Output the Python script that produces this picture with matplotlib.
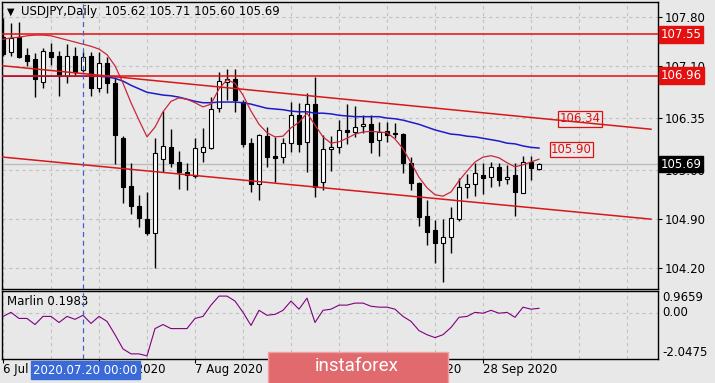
import matplotlib
matplotlib.use("Agg")
import matplotlib.pyplot as plt
import numpy as np
from matplotlib.patches import Rectangle, FancyBboxPatch

# ---- data (USDJPY daily, bar 0 = 6 Jul 2020) ----
opens = [107.51, 107.30, 107.51, 107.26, 107.20, 106.87, 107.30, 107.24, 106.95, 107.24,
         107.04, 107.24, 106.78, 107.14, 106.85, 106.06, 105.38, 105.09, 104.90, 104.70,
         105.76, 105.93, 105.72, 105.58, 105.52, 105.86, 105.92, 106.49, 106.87, 106.91,
         106.58, 105.99, 105.40, 106.09, 105.81, 105.79, 105.99, 106.39, 106.01, 106.55,
         105.43, 105.91, 105.93, 106.18, 106.15, 106.24, 106.26, 106.04, 106.16, 106.14,
         106.12, 105.71, 105.42, 104.95, 104.74, 104.56, 104.64, 104.90, 105.36, 105.40,
         105.53, 105.50, 105.65, 105.48, 105.53, 105.27, 105.72, 105.62]
highs = [107.79, 107.71, 107.73, 107.36, 107.28, 107.36, 107.43, 107.31, 107.41, 107.37,
         107.30, 107.30, 107.30, 107.23, 106.94, 106.09, 105.71, 105.25, 105.29, 106.06,
         106.45, 106.19, 105.88, 105.71, 106.06, 106.21, 106.65, 107.01, 107.05, 107.05,
         106.61, 106.06, 106.12, 106.22, 106.08, 106.06, 106.58, 106.57, 106.71, 106.94,
         106.11, 106.09, 106.32, 106.55, 106.52, 106.39, 106.39, 106.29, 106.29, 106.28,
         106.14, 105.79, 105.43, 105.17, 104.89, 104.90, 105.07, 105.49, 105.55, 105.71,
         105.71, 105.72, 105.71, 105.68, 105.71, 105.81, 105.81, 105.71]
lows = [107.24, 107.24, 107.21, 107.10, 106.65, 106.78, 107.11, 106.67, 106.85, 106.95,
        107.01, 106.67, 106.72, 106.71, 105.69, 105.13, 104.97, 104.79, 104.67, 104.20,
        105.58, 105.65, 105.33, 105.32, 105.49, 105.72, 105.91, 106.44, 106.61, 106.44,
        105.93, 105.29, 105.17, 105.65, 105.43, 105.71, 105.86, 105.86, 105.58, 105.22,
        105.32, 105.59, 105.85, 105.98, 106.08, 106.14, 105.85, 105.81, 106.01, 106.06,
        105.56, 105.32, 104.80, 104.53, 104.27, 104.00, 104.41, 104.87, 105.20, 105.23,
        105.26, 105.36, 105.38, 105.40, 104.95, 105.27, 105.46, 105.60]
closes = [107.27, 107.50, 107.23, 107.17, 106.91, 107.31, 107.23, 106.95, 107.24, 107.01,
          107.23, 106.78, 107.14, 106.85, 106.11, 105.36, 105.09, 104.92, 104.70, 105.85,
          105.95, 105.71, 105.58, 105.53, 105.92, 105.93, 106.48, 106.88, 106.91, 106.61,
          105.98, 105.40, 106.11, 105.79, 105.78, 105.99, 106.39, 105.98, 106.55, 105.36,
          105.91, 105.93, 106.18, 106.15, 106.22, 106.26, 106.01, 106.15, 106.11, 106.12,
          105.71, 105.42, 104.93, 104.72, 104.56, 104.64, 104.92, 105.36, 105.40, 105.56,
          105.49, 105.65, 105.46, 105.50, 105.29, 105.72, 105.63, 105.69]

ma_fast = [107.48, 107.50, 107.51, 107.53, 107.54, 107.54, 107.53, 107.50, 107.47, 107.44,
           107.41, 107.38, 107.34, 107.26, 107.10, 106.85, 106.57, 106.32, 106.08, 106.22,
           106.44, 106.59, 106.64, 106.62, 106.57, 106.51, 106.55, 106.77, 106.90, 106.85,
           106.68, 106.45, 106.26, 106.14, 106.08, 106.09, 106.21, 106.29, 106.42, 106.25,
           106.08, 105.99, 106.01, 106.06, 106.12, 106.15, 106.16, 106.15, 106.14, 106.05,
           105.91, 105.71, 105.50, 105.35, 105.25, 105.23, 105.29, 105.45, 105.59, 105.72,
           105.79, 105.81, 105.78, 105.71, 105.65, 105.68, 105.72, 105.76]
ma_slow = [106.95, 106.95, 106.95, 106.95, 106.95, 106.95, 106.95, 106.95, 106.95, 106.95,
           106.95, 106.95, 106.95, 106.94, 106.92, 106.88, 106.82, 106.77, 106.72, 106.70,
           106.68, 106.67, 106.65, 106.62, 106.59, 106.57, 106.57, 106.58, 106.58, 106.58,
           106.57, 106.55, 106.52, 106.49, 106.48, 106.47, 106.45, 106.44, 106.44, 106.42,
           106.42, 106.41, 106.39, 106.38, 106.37, 106.37, 106.37, 106.37, 106.35, 106.34,
           106.32, 106.29, 106.26, 106.22, 106.18, 106.15, 106.12, 106.11, 106.09, 106.08,
           106.06, 106.04, 106.02, 105.99, 105.98, 105.95, 105.93, 105.92]
marlin = [-0.16, 0.02, -0.25, -0.25, -0.52, -0.16, -0.16, -0.43, -0.16, -0.29,
          -0.11, -0.47, -0.16, -0.38, -0.97, -1.60, -1.82, -1.82, -1.91, -0.70,
          -0.52, -0.70, -0.70, -0.70, -0.25, -0.16, 0.34, 0.74, 0.74, 0.52,
          0.02, -0.56, 0.11, -0.11, -0.07, 0.11, 0.52, 0.16, 0.65, -0.43,
          0.11, 0.16, 0.34, 0.34, 0.43, 0.43, 0.29, 0.25, 0.25, 0.16,
          -0.16, -0.38, -0.79, -0.97, -1.10, -0.97, -0.65, -0.20, -0.16, 0.02,
          -0.02, 0.11, -0.02, 0.02, -0.20, 0.25, 0.16, 0.1983]

levels = [107.55, 106.96]
upper_bars, upper_vals = [0, 81], [107.10, 106.19]
lower_bars, lower_vals = [0, 81], [105.79, 104.90]
price_ticks = [107.80, 107.10, 106.35, 105.60, 104.90, 104.20]
date_bars = [0, 12, 24, 36, 48, 60]
date_labels = ["6 Jul 2020", "22 Jul 2020", "7 Aug 2020", "25 Aug 2020", "10 Sep 2020", "28 Sep 2020"]
last_price = 105.69

# ---- layout ----
W, H = 715, 383
bg = "#e8e8e8"
fig = plt.figure(figsize=(W / 100, H / 100), dpi=100)
fig.patch.set_facecolor(bg)


def fx(x):
    return x / W


def fy(y):
    return 1 - y / H


ax = fig.add_axes([fx(2), fy(289), (658 - 2) / W, (289 - 2) / H])
axi = fig.add_axes([fx(2), fy(359), (658 - 2) / W, (359 - 291) / H])
xlim = (-0.125, 81.875)
for a in (ax, axi):
    a.set_facecolor(bg)
    a.set_xlim(*xlim)
    for s in a.spines.values():
        s.set_color("black")
        s.set_linewidth(1)
ax.set_ylim(103.898, 108.015)
axi.set_ylim(-2.0475, 0.9659)

grid_kw = dict(color="#c2c2c2", lw=0.8, ls=(0, (3, 3)), zorder=0)
for b in range(0, 82, 6):
    ax.axvline(b, **grid_kw)
    axi.axvline(b, **grid_kw)
for p in price_ticks:
    ax.axhline(p, **grid_kw)
axi.axhline(0, **grid_kw)

x = np.arange(len(closes))

# current price line
ax.axhline(last_price, color="#bdbdbd", lw=1, zorder=1)

# candles
w = 0.62
ax.vlines(x, lows, highs, color="black", lw=1, zorder=2)
for i in range(len(closes)):
    o, c = opens[i], closes[i]
    h = max(abs(c - o), 0.012)
    fc = "white" if c >= o else "black"
    ax.add_patch(Rectangle((i - w / 2, min(o, c)), w, h, fc=fc, ec="black", lw=0.8, zorder=3))

# moving averages
ax.plot(x, ma_slow, color="#1c1cc8", lw=1.1, zorder=4)
ax.plot(x, ma_fast, color="#c8283c", lw=0.9, zorder=5)

# levels and channel
for lv in levels:
    ax.axhline(lv, color="#e41010", lw=1.1, zorder=6)
ax.plot(upper_bars, upper_vals, color="#d81818", lw=1.1, zorder=6)
ax.plot(lower_bars, lower_vals, color="#d81818", lw=1.1, zorder=6)
ax.set_xlim(*xlim)

# crosshair
for a in (ax, axi):
    a.axvline(10, color="#3c64d0", lw=0.9, ls=(0, (4, 3)), zorder=7)

# chart labels
lab_kw = dict(fontsize=8.5, color="#e01010", va="center", ha="left", zorder=8)
ax.text(69.6, 106.34, "106.34",
        bbox=dict(boxstyle="square,pad=0.12", fc="none", ec="#e01010", lw=0.9), **lab_kw)
ax.text(68.5, 105.90, "105.90",
        bbox=dict(boxstyle="square,pad=0.12", fc=bg, ec="#e01010", lw=0.9), **lab_kw)

# right price axis
ax.yaxis.tick_right()
ax.set_yticks(price_ticks)
ax.set_yticklabels([f"{p:.2f}" for p in price_ticks])
ax.tick_params(axis="y", direction="out", length=3, pad=2, labelsize=8.5, colors="black")
ax.set_xticks([])
tr = ax.get_yaxis_transform()
for lv in levels:
    ax.text(1.004, lv, f"{lv:.2f}", transform=tr, color="white", fontsize=8.5, va="center",
            ha="left", clip_on=False, zorder=9,
            bbox=dict(boxstyle="square,pad=0.15", fc="#e41010", ec="#e41010"))
ax.text(1.004, last_price, f"{last_price:.2f}", transform=tr, color="white", fontsize=8.5,
        va="center", ha="left", clip_on=False, zorder=9,
        bbox=dict(boxstyle="square,pad=0.15", fc="black", ec="black"))

# indicator panel
axi.plot(x, marlin, color="#800080", lw=0.8, zorder=4)
axi.set_yticks([])
axi.set_xticks(date_bars)
axi.set_xticklabels([])
axi.tick_params(axis="x", direction="out", length=3)
tri = axi.get_yaxis_transform()
axi.text(1.006, 0.9659, "0.9659", transform=tri, fontsize=8.5, va="top", ha="left")
axi.text(1.006, 0.0, "0.00", transform=tri, fontsize=8.5, va="center", ha="left")
axi.text(1.006, -2.0475, "-2.0475", transform=tri, fontsize=8.5, va="bottom", ha="left")
axi.text(0.008, 0.84, "Marlin 0.1983", transform=axi.transAxes, fontsize=8.5, va="center", ha="left")
for b, lbl in zip(date_bars, date_labels):
    axi.text(b, -0.16, lbl, transform=axi.get_xaxis_transform(), fontsize=8.5, va="center",
             ha="left", clip_on=False)

# title
fig.text(fx(7), fy(12), "\u25bc", fontsize=7, va="center", ha="left")
fig.text(fx(21), fy(12), "USDJPY,Daily  105.62 105.71 105.60 105.69", fontsize=8.5,
         va="center", ha="left")

# crosshair date box
fig.text(fx(33), fy(370), "2020.07.20 00:00", color="white", fontsize=8.5, va="center", ha="left",
         bbox=dict(boxstyle="square,pad=0.2", fc="#3a6ad8", ec="#3a6ad8"), zorder=10)

# watermark
fig.patches.append(FancyBboxPatch((fx(268), fy(384)), fx(448) - fx(268), fy(352) - fy(384),
                                  boxstyle="square,pad=0", fc="#e06a6e", ec="#f0a0a0", lw=1,
                                  transform=fig.transFigure, figure=fig, zorder=10))
fig.text(fx(357), fy(366), "instaforex", color="white", fontsize=13.5, family="Roboto",
         va="center", ha="center", zorder=11)

fig.savefig("out.png", dpi=100, facecolor=bg)
